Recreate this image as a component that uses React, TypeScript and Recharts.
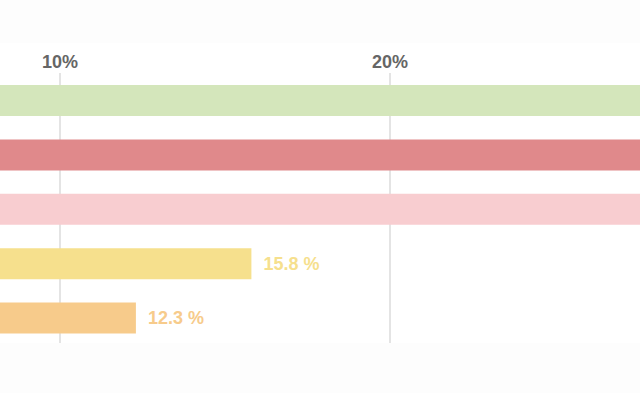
import React from "react";
import { BarChart, Bar, XAxis, YAxis, CartesianGrid, Cell, LabelList } from "recharts";

const categories = ["A", "B", "C", "D", "E"];
const values = [33.4, 30.6, 29.1, 15.8, 12.3];
const colors = ["#d4e6bb", "#e0898b", "#f8cdd0", "#f6e08d", "#f7cb8b"];
const xTicks = [10, 20];
const xTickLabels = ["10%", "20%"];

const data = categories.map((c, i) => ({ name: c, value: values[i], color: colors[i] }));

const FONT = "'Liberation Sans', Arial, Helvetica, sans-serif";
const CHART_LEFT = -270;
const VIEW_W = 640;

const renderLabel = (props: any) => {
  const { x, y, width, height, value, index } = props;
  const lx = x + width + 12;
  // only draw labels that fall inside the visible frame (as in the reference)
  if (lx + CHART_LEFT + 60 > VIEW_W) return null;
  return (
    <text
      x={lx}
      y={y + height / 2}
      dominantBaseline="central"
      textAnchor="start"
      fill={colors[index]}
      fontSize={18}
      fontWeight="bold"
      fontFamily={FONT}
    >
      {`${value} %`}
    </text>
  );
};

export default function App() {
  return (
    <div
      style={{
        position: "fixed",
        left: 0,
        top: 0,
        width: 640,
        height: 393,
        overflow: "hidden",
        background: "#fdfdfd",
      }}
    >
      <div
        style={{
          position: "absolute",
          left: CHART_LEFT,
          top: 43,
          width: 1155,
          height: 300,
          overflow: "hidden",
          background: "#ffffff",
        }}
      >
        <BarChart
          width={1155}
          height={302}
          data={data}
          layout="vertical"
          margin={{ top: 0, right: 0, bottom: 0, left: 0 }}
          barCategoryGap={0}
        >
          <CartesianGrid horizontal={false} vertical={true} stroke="#c9c9c9" />
          <XAxis
            type="number"
            orientation="top"
            domain={[0, 35]}
            ticks={xTicks}
            tickFormatter={(v: number) => xTickLabels[xTicks.indexOf(v)]}
            axisLine={false}
            tickLine={false}
            tickSize={0}
            tickMargin={5}
            height={30}
            tick={{ fill: "#666666", fontSize: 18, fontWeight: "bold", fontFamily: FONT }}
            interval={0}
          />
          <YAxis type="category" dataKey="name" hide />
          <Bar dataKey="value" barSize={31} isAnimationActive={false}>
            {data.map((d, i) => (
              <Cell key={i} fill={d.color} />
            ))}
            <LabelList dataKey="value" content={renderLabel} />
          </Bar>
        </BarChart>
      </div>
    </div>
  );
}
